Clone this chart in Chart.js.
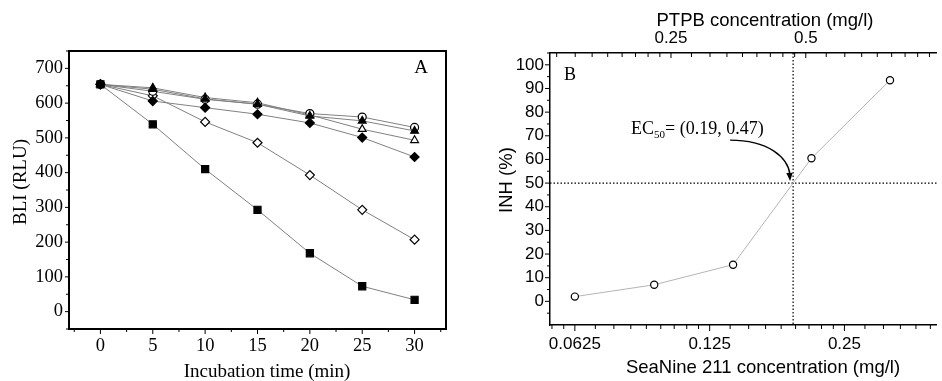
<!DOCTYPE html>
<html>
<head>
<meta charset="utf-8">
<script src="https://cdn.jsdelivr.net/npm/chart.js@4.4.0/dist/chart.umd.min.js"></script>
<style>
  html, body { margin: 0; padding: 0; background: #fff; }
  #wrap { position: relative; width: 942px; height: 381px; overflow: hidden; }
  #chartA { position: absolute; left: 0; top: 0; }
  #chartB { position: absolute; left: 470px; top: 0; }
</style>
</head>
<body>
<div id="wrap">
  <canvas id="chartA" width="470" height="381"></canvas>
  <canvas id="chartB" width="472" height="381"></canvas>
</div>
<script>
// panel A data
const times = [0, 5, 10, 15, 20, 25, 30];
const timeTicks = [0, 5, 10, 15, 20, 25, 30];
const bliTicks = [0, 100, 200, 300, 400, 500, 600, 700];
const bliFilledSquare = [654, 539, 410, 293, 168, 73, 34];
const bliOpenDiamond = [654, 621, 546, 486, 393, 293, 207];
const bliFilledDiamond = [654, 606, 587, 568, 543, 501, 445];
const bliOpenTriangle = [654, 644, 616, 601, 566, 525, 493];
const bliFilledTriangle = [654, 640, 612, 597, 563, 549, 520];
const bliOpenCircle = [654, 634, 611, 597, 570, 560, 530];

// panel B data
const seaNineConc = [0.0625, 0.094, 0.141, 0.211, 0.316];
const inhValues = [2, 7, 15.5, 60.5, 93.5];
const seaNineTicks = [0.0625, 0.125, 0.25];
const ptpbTicks = [0.25, 0.5];
const inhTicks = [0, 10, 20, 30, 40, 50, 60, 70, 80, 90, 100];
const ec50 = [0.192, 50];
const ec50Label = '= (0.19, 0.47)';
const ptpbRatio = 2.44;

const SERIF = '"Liberation Serif", "Times New Roman", serif';
const SANS = '"Liberation Sans", Arial, sans-serif';

function pts(xs, ys) {
  return xs.map((x, i) => ({ x: x, y: ys[i] }));
}

// tick marks (major + minor), drawn off the scales
function tickMarksPlugin(spec) {
  return {
    id: 'tickMarks',
    afterDraw(chart) {
      const ctx = chart.ctx;
      ctx.save();
      ctx.strokeStyle = '#000';
      Object.keys(spec).forEach(id => {
        const s = chart.scales[id];
        const o = spec[id];
        ctx.lineWidth = o.width || 1;
        const draw = (v, len) => {
          if (v < s.min || v > s.max) return;
          const p = s.getPixelForValue(v);
          ctx.beginPath();
          if (s.isHorizontal()) {
            const base = s.position === 'top' ? s.bottom : s.top;
            let dir = s.position === 'top' ? -1 : 1;
            if (o.inward) dir = -dir;
            ctx.moveTo(p, base);
            ctx.lineTo(p, base + dir * len);
          } else {
            const base = s.right;
            ctx.moveTo(base, p);
            ctx.lineTo(base - len, p);
          }
          ctx.stroke();
        };
        s.ticks.forEach(t => draw(t.value, o.major));
        o.minor.forEach(v => draw(v, o.minorLen));
      });
      ctx.restore();
    }
  };
}

function textPlugin(items) {
  return {
    id: 'texts',
    afterDraw(chart) {
      const ctx = chart.ctx;
      items.forEach(it => {
        ctx.save();
        ctx.fillStyle = '#000';
        ctx.font = it.font;
        ctx.textAlign = 'center';
        ctx.textBaseline = 'middle';
        ctx.translate(it.x, it.y);
        if (it.rotate) ctx.rotate(it.rotate);
        ctx.fillText(it.text, 0, 0);
        ctx.restore();
      });
    }
  };
}

const boxPlugin = {
  id: 'box',
  afterDraw(chart) {
    const a = chart.chartArea;
    const ctx = chart.ctx;
    ctx.save();
    ctx.strokeStyle = '#000';
    ctx.lineWidth = 2;
    ctx.strokeRect(a.left, a.top, a.right - a.left, a.bottom - a.top);
    ctx.restore();
  }
};

function range(a, b, step) {
  const out = [];
  for (let v = a; v <= b + 1e-9; v += step) out.push(v);
  return out;
}

// ---------- Panel A ----------
const markerA = (label, data, style, filled, r) => ({
  label: label,
  data: pts(times, data),
  borderColor: '#808080',
  borderWidth: 1,
  pointStyle: style,
  pointRadius: r,
  pointBorderColor: '#000',
  pointBackgroundColor: filled ? '#000' : '#fff',
  pointBorderWidth: 1.2,
  tension: 0
});

// first dataset is drawn on top
new Chart(document.getElementById('chartA'), {
  type: 'line',
  data: {
    datasets: [
      markerA('filled square', bliFilledSquare, 'rect', true, 5),
      markerA('filled diamond', bliFilledDiamond, 'rectRot', true, 4.5),
      markerA('filled triangle', bliFilledTriangle, 'triangle', true, 4.5),
      markerA('open circle', bliOpenCircle, 'circle', false, 4),
      markerA('open triangle', bliOpenTriangle, 'triangle', false, 4.5),
      markerA('open diamond', bliOpenDiamond, 'rectRot', false, 4.5)
    ]
  },
  options: {
    responsive: false,
    animation: false,
    devicePixelRatio: 1,
    layout: { padding: { top: 51, right: 24, left: 0, bottom: 0 } },
    plugins: { legend: { display: false }, tooltip: { enabled: false } },
    scales: {
      x: {
        type: 'linear', min: -3, max: 33,
        afterBuildTicks: s => { s.ticks = timeTicks.map(v => ({ value: v })); },
        afterFit: s => { s.height = 52; },
        grid: { display: false, drawTicks: false },
        border: { display: false },
        ticks: { color: '#000', font: { family: SERIF, size: 18.5 }, padding: 6, maxRotation: 0, autoSkip: false }
      },
      y: {
        type: 'linear', min: -50, max: 750,
        afterBuildTicks: s => { s.ticks = bliTicks.map(v => ({ value: v })); },
        afterFit: s => { s.width = 69; },
        grid: { display: false, drawTicks: false },
        border: { display: false },
        ticks: { color: '#000', font: { family: SERIF, size: 18.5 }, padding: 6 }
      }
    }
  },
  plugins: [
    boxPlugin,
    tickMarksPlugin({
      x: { major: 5, minorLen: 3, minor: range(-2.5, 32.5, 5) },
      y: { major: 4, minorLen: 3, minor: range(-50, 750, 100) }
    }),
    textPlugin([
      { text: 'BLI (RLU)', x: 21, y: 182, font: '19px ' + SERIF, rotate: -Math.PI / 2 },
      { text: 'Incubation time (min)', x: 267, y: 372, font: '19px ' + SERIF },
      { text: 'A', x: 421, y: 68, font: '19px ' + SERIF }
    ])
  ]
});

// ---------- Panel B ----------
const xMinB = 0.055, xMaxB = 0.402;

function log2Minor(lo, hi) {
  const out = [];
  for (let m = -8; m <= 2; m++) {
    const base = Math.pow(2, m);
    for (let k = 1; k <= 8; k++) {
      const v = Math.log2(base * (1 + k / 9));
      if (v > lo && v < hi) out.push(v);
    }
  }
  return out;
}

const ec50Plugin = {
  id: 'ec50',
  beforeDatasetsDraw(chart) {
    const a = chart.chartArea;
    const ctx = chart.ctx;
    const px = chart.scales.x.getPixelForValue(Math.log2(ec50[0]));
    const py = chart.scales.y.getPixelForValue(ec50[1]);
    ctx.save();
    ctx.strokeStyle = '#000';
    ctx.lineWidth = 1.2;
    ctx.setLineDash([1.5, 2]);
    ctx.beginPath();
    ctx.moveTo(px, a.top); ctx.lineTo(px, a.bottom);
    ctx.moveTo(a.left, py); ctx.lineTo(a.right, py);
    ctx.stroke();
    ctx.restore();
  },
  afterDraw(chart) {
    const ctx = chart.ctx;
    const px = chart.scales.x.getPixelForValue(Math.log2(ec50[0]));
    const py = chart.scales.y.getPixelForValue(ec50[1]);
    ctx.save();
    ctx.fillStyle = '#000';
    ctx.textBaseline = 'alphabetic';
    ctx.textAlign = 'left';
    let tx = px - 162;
    const ty = py - 49;
    ctx.font = '18px ' + SERIF;
    ctx.fillText('EC', tx, ty);
    tx += ctx.measureText('EC').width;
    ctx.font = '11px ' + SERIF;
    ctx.fillText('50', tx, ty + 4);
    tx += ctx.measureText('50').width;
    ctx.font = '18px ' + SERIF;
    ctx.fillText(ec50Label, tx, ty);
    // curved arrow
    const sx = px - 63, sy = py - 43;
    const ex = px - 3, ey = py - 2;
    ctx.strokeStyle = '#000';
    ctx.lineWidth = 1.3;
    ctx.beginPath();
    ctx.moveTo(sx, sy);
    ctx.bezierCurveTo(sx + 38, sy, ex - 2, ey - 24, ex, ey - 6);
    ctx.stroke();
    ctx.beginPath();
    ctx.moveTo(ex, ey);
    ctx.lineTo(ex - 3.8, ey - 8);
    ctx.lineTo(ex + 2.6, ey - 8.4);
    ctx.closePath();
    ctx.fill();
    ctx.restore();
  }
};

const xLo = Math.log2(xMinB), xHi = Math.log2(xMaxB);
const x2Lo = Math.log2(xMinB * ptpbRatio), x2Hi = Math.log2(xMaxB * ptpbRatio);

new Chart(document.getElementById('chartB'), {
  type: 'line',
  data: {
    datasets: [{
      label: 'INH',
      data: pts(seaNineConc.map(c => Math.log2(c)), inhValues),
      borderColor: '#b4b4b4',
      borderWidth: 1,
      pointStyle: 'circle',
      pointRadius: 3.6,
      pointBorderColor: '#000',
      pointBackgroundColor: '#fff',
      pointBorderWidth: 1.2,
      tension: 0
    }]
  },
  options: {
    responsive: false,
    animation: false,
    devicePixelRatio: 1,
    layout: { padding: 0 },
    plugins: { legend: { display: false }, tooltip: { enabled: false } },
    scales: {
      x: {
        type: 'linear', position: 'bottom', min: xLo, max: xHi,
        afterBuildTicks: s => { s.ticks = seaNineTicks.map(v => ({ value: Math.log2(v) })); },
        afterFit: s => { s.height = 56; },
        grid: { display: false, drawTicks: false },
        border: { display: true, color: '#000', width: 1.5 },
        ticks: {
          color: '#000', font: { family: SANS, size: 17 }, padding: 9, maxRotation: 0, autoSkip: false,
          callback: (v, i) => String(seaNineTicks[i])
        }
      },
      x2: {
        type: 'linear', position: 'top', min: x2Lo, max: x2Hi,
        afterBuildTicks: s => { s.ticks = ptpbTicks.map(v => ({ value: Math.log2(v) })); },
        afterFit: s => { s.height = 53; },
        grid: { display: false, drawTicks: false },
        border: { display: true, color: '#000', width: 1.5 },
        ticks: {
          color: '#000', font: { family: SANS, size: 17 }, padding: 4, maxRotation: 0, autoSkip: false,
          callback: (v, i) => String(ptpbTicks[i])
        }
      },
      y: {
        type: 'linear', min: -10, max: 105,
        afterBuildTicks: s => { s.ticks = inhTicks.map(v => ({ value: v })); },
        afterFit: s => { s.width = 80; },
        grid: { display: false, drawTicks: false },
        border: { display: true, color: '#000', width: 1.5 },
        ticks: { color: '#000', font: { family: SANS, size: 17 }, padding: 6 }
      }
    }
  },
  plugins: [
    ec50Plugin,
    tickMarksPlugin({
      x: { major: 6, minorLen: 4, minor: log2Minor(xLo, xHi) },
      x2: { major: 5, minorLen: 4, inward: true, minor: log2Minor(x2Lo, x2Hi) },
      y: { major: 5, minorLen: 3, minor: range(-5, 105, 10) }
    }),
    textPlugin([
      { text: 'INH (%)', x: 37, y: 180, font: '18.5px ' + SANS, rotate: -Math.PI / 2 },
      { text: 'SeaNine 211 concentration (mg/l)', x: 293, y: 368, font: '18.5px ' + SANS },
      { text: 'PTPB concentration (mg/l)', x: 295, y: 21, font: '18.5px ' + SANS },
      { text: 'B', x: 100, y: 75, font: '18px ' + SERIF }
    ])
  ]
});
</script>
</body>
</html>
